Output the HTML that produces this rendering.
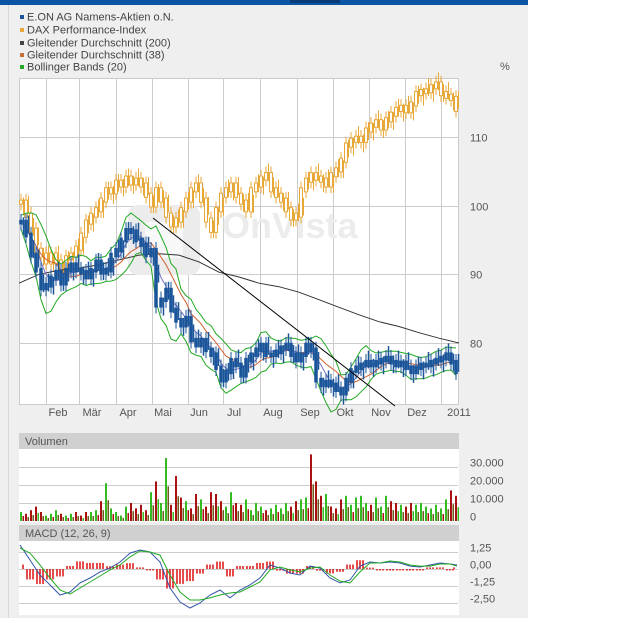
<!DOCTYPE html>
<html><head><meta charset="utf-8">
<style>
body{margin:0;width:640px;height:618px;background:#fff;font-family:"Liberation Sans",sans-serif;overflow:hidden}
svg text{font-family:"Liberation Sans",sans-serif}
</style></head>
<body>
<svg id="chart" width="640" height="618" xmlns="http://www.w3.org/2000/svg">
<rect x="0" y="0" width="528" height="618" fill="#efefef"/>
<line x1="8.5" y1="0" x2="8.5" y2="618" stroke="#d8d8d8"/>
<rect x="0" y="0" width="528" height="5" fill="#0b56a4"/>
<rect x="290" y="0" width="50" height="3" fill="#073c78"/>
<g font-size="11" fill="#444">
<rect x="20" y="15" width="4" height="4" fill="#1a5499"/><text x="27" y="20.5">E.ON AG Namens-Aktien o.N.</text>
<rect x="20" y="28" width="4" height="4" fill="#e8a838"/><text x="27" y="33.5">DAX Performance-Index</text>
<rect x="20" y="41" width="4" height="4" fill="#444"/><text x="27" y="46.5">Gleitender Durchschnitt (200)</text>
<rect x="20" y="53" width="4" height="4" fill="#c8703a"/><text x="27" y="58.5">Gleitender Durchschnitt (38)</text>
<rect x="20" y="65" width="4" height="4" fill="#22aa22"/><text x="27" y="70.5">Bollinger Bands (20)</text>
</g>
<text x="500" y="70" font-size="11" fill="#555">%</text>
<g id="main"></g>
<g id="vol"></g>
<g id="macd"></g>
</svg>
<script>
const eon=[97.6,95.7,92.8,90.6,88,88.4,89.5,90.3,88.7,90.6,91.4,90.6,90.3,89.6,90.6,91.8,90.3,90.6,92.8,93.5,95,96.4,96.2,95,94.3,92.8,93.5,85.5,86.3,87.7,84.8,83.3,82.6,83.6,80.4,79.7,80.4,79,78.3,76.4,74.6,75.8,77.5,76.8,75.3,77.5,78.3,79,79.7,78.3,78.3,78.7,79.3,79.7,78.3,77.5,78.3,79.7,79,74.6,73.9,74.3,73.9,73.2,72.7,74.6,76,76.4,76.8,77.2,76.8,77.2,77.5,77.8,77.2,76.8,77.1,76.4,75.8,76.4,76.8,76.8,77.2,77.5,77.8,78.3,77.2,75.8];
const dax=[100.5,98.6,96.4,93.5,92.8,91.8,92.8,91.8,90.6,92.4,92.8,93.8,95.7,97.6,98.6,99.4,100.8,102.3,102,103.4,103,104,103.3,103.7,103,101.5,100.1,102.3,100.8,98.6,97.2,97.9,99.4,100.8,102.3,103,100.8,97.9,96.4,99.4,101.5,102.3,103,101.5,100.5,99.4,102.3,103,104,104.5,102.3,101.5,100.8,99.4,98.2,98.6,102.3,103.7,104.5,104,103.7,103,104.5,105.2,106.6,108.8,109.5,109.8,109.5,111,111.7,112.2,111.3,112.5,113.3,114,114.3,113.8,114.8,116.3,116.6,116.7,117.3,117.7,116.3,115.9,115.6,114];
const ma200=[88.7,90,90.6,90.9,91.4,92.1,92.8,93,92.8,91.8,90.3,89.6,88.7,88.2,87.4,86.3,85.2,84.1,83.1,82.4,81.5,80.7,80];
const volume=[5,4,6,8,5,3,4,6,4,3,4,5,3,5,5,6,11,21,7,5,3,8,10,7,9,6,16,22,10,35,9,25,13,11,7,15,12,8,16,15,11,8,16,10,9,12,6,10,8,6,7,9,7,10,8,11,12,13,37,22,14,15,8,7,12,14,9,13,14,10,9,13,8,14,11,10,9,8,10,9,10,8,7,9,7,12,17,14];
const macdLine=[1.79,0.67,-0.45,-1.19,-1.94,-1.72,-1.04,-0.67,-0.22,0.07,0.52,1.19,1.42,1.27,0.52,-1.42,-2.46,-2.91,-2.54,-1.94,-1.57,-2.16,-1.57,-1.19,-0.67,0.30,0.07,-0.30,-0.45,0.22,0.07,-0.67,-1.04,-0.82,0.22,0.52,0.45,0.52,0.45,0.22,0.15,0.30,0.45,0.37,0.30];
const signalLine=[1.57,1.19,0.30,-0.67,-1.57,-1.87,-1.42,-0.97,-0.52,-0.07,0.30,0.90,1.34,1.27,1.04,-0.45,-1.72,-2.31,-2.31,-2.16,-1.94,-1.79,-1.72,-1.34,-0.97,-0.07,0.15,-0.07,-0.22,0.07,0.15,-0.45,-0.90,-1.04,-0.22,0.45,0.45,0.60,0.52,0.30,0.22,0.22,0.37,0.37,0.22];
const yTicks=[110,100,90,80];
const volTicks=[30,20,10,0];
const volTickLabels=["30.000","20.000","10.000","0"];
const macdTicks=[1.25,0,-1.25,-2.5];
const macdTickLabels=["1,25","0,00","-1,25","-2,50"];
const months=["Feb","Mär","Apr","Mai","Jun","Jul","Aug","Sep","Okt","Nov","Dez","2011"];
const monthLines=[46,79,116,152,188,223,260,297,333,369,405,441];
const monthLabelX=[58,92,128,163,199,234,273,310,345,381,417,459];

const NS="http://www.w3.org/2000/svg";
function mk(p,tag,a){const e=document.createElementNS(NS,tag);for(const k in a)e.setAttribute(k,a[k]);p.appendChild(e);return e;}
const L=19,R=458;
const yP=v=>343-(v-80)*6.87;
const xI=i=>21+i*5;
const main=document.getElementById('main');
const vol=document.getElementById('vol');
const mac=document.getElementById('macd');

let r=mk(main,'rect',{x:L+0.5,y:78.5,width:R-L,height:326,fill:'#fff',stroke:'#ccc'});

monthLines.forEach(x=>{const l=mk(main,'line',{x1:x+.5,x2:x+.5,y1:79,y2:404,stroke:'#ccc'});
});
yTicks.forEach(v=>{const y=Math.round(yP(v))+.5;const l=mk(main,'line',{x1:L,x2:R,y1:y,y2:y,stroke:'#ccc'});

const t=mk(main,'text',{x:470,y:y+4,'font-size':11,fill:'#555'});t.textContent=v;
});
months.forEach((m,i)=>{const t=mk(main,'text',{x:monthLabelX[i],y:416,'font-size':11,fill:'#555','text-anchor':'middle'});t.textContent=m;
});
let wm=mk(main,'g',{});

mk(wm,'rect',{x:128,y:205,width:72,height:70,rx:10,fill:'#ececec'});
mk(wm,'rect',{x:145,y:222,width:38,height:36,rx:4,fill:'#f8f8f8'});
let wt=mk(wm,'text',{x:222,y:238,'font-size':36,'font-weight':'bold',fill:'#ececec'});wt.textContent='OnVista';

function candles(arr,name,hollow,color){
  const g=mk(main,'g',{});
  arr.forEach((c,i)=>{const o=i?arr[i-1]:c;const hi=Math.max(o,c)+1.2,lo=Math.min(o,c)-1.2;const x=xI(i);
    const w=mk(g,'line',{x1:x,x2:x,y1:yP(hi),y2:yP(lo),stroke:color,'stroke-width':1});
    
    const top=yP(Math.max(o,c)+0.3),h=Math.max(4,yP(Math.min(o,c)-0.3)-top);
    const b=mk(g,'rect',{x:x-1.5,y:top,width:3,height:h,fill:hollow?'#fff':color,stroke:color,'stroke-width':hollow?1:0.5});
    
    const x2=x+2.5,mid=(o+c)/2+(i%2?0.6:-0.6);
    const w2=mk(g,'line',{x1:x2,x2:x2,y1:yP(mid+1.3),y2:yP(mid-1.3),stroke:color,'stroke-width':hollow?1:1.5});
    });
}
function poly(pts,name,color,w){const p=mk(main,'polyline',{points:pts.map(p=>p[0].toFixed(1)+','+p[1].toFixed(1)).join(' '),fill:'none',stroke:color,'stroke-width':w||1});
}
candles(dax,'dax-candles',true,'#e8a838');
const ma38=[],bbM=[],bbU=[],bbL=[];
eon.forEach((v,i)=>{const s=eon.slice(Math.max(0,i-7),i+1);ma38.push([xI(i),yP(s.reduce((a,b)=>a+b)/s.length)]);
 const s2=eon.slice(Math.max(0,i-3),i+1);const m=s2.reduce((a,b)=>a+b)/s2.length;
 const s3=eon.slice(Math.max(0,i-5),i+1);const m3=s3.reduce((a,b)=>a+b)/s3.length;
 const sd=Math.sqrt(s3.reduce((a,b)=>a+(b-m3)*(b-m3),0)/s3.length);
 const bw=1.3*sd+1.0;
 bbM.push([xI(i),yP(m)]);bbU.push([xI(i),yP(m+bw)]);bbL.push([xI(i),yP(m-bw)]);});
poly(ma200.map((v,i)=>[L+i*20,yP(v)]),'ma200-line','#333',1);
poly(ma38,'ma38-line','#d06030',1);
poly(bbM,'bollinger-middle','#7070c0',1);
poly(bbU,'bollinger-upper','#22aa22',1);
poly(bbL,'bollinger-lower','#22aa22',1);
candles(eon,'eon-candles',false,'#1a5499');
let tl=mk(main,'line',{x1:153,y1:218,x2:395,y2:406,stroke:'#000','stroke-width':1});


let vh=mk(vol,'rect',{x:L,y:433,width:R-L+1,height:16,fill:'#d0d0d0'});

let vht=mk(vol,'text',{x:25,y:445,'font-size':11,fill:'#555'});vht.textContent='Volumen';

let vp=mk(vol,'rect',{x:L,y:449,width:R-L+1,height:73,fill:'#fff'});

const vY=v=>521-v*1.8;
volTicks.forEach((v,i)=>{const y=Math.round(vY(v))+.5;if(v>0){const l=mk(vol,'line',{x1:L,x2:R,y1:y,y2:y,stroke:'#ccc'});
}
const t=mk(vol,'text',{x:470,y:y-1,'font-size':11,fill:'#555'});t.textContent=volTickLabels[i];
});
volume.forEach((v,i)=>{const up=i==0||eon[i]>=eon[i-1];const x=xI(i);
 const b=mk(vol,'rect',{x:x-1,y:vY(v),width:2,height:v*1.8,fill:up?'#33bb22':'#aa1111'});
 
 const b2=mk(vol,'rect',{x:x+1.5,y:vY(v*0.55),width:1.5,height:v*0.55*1.8,fill:i%3?'#6b5a1a':(up?'#aa1111':'#33bb22')});
 });

let mh=mk(mac,'rect',{x:L,y:525,width:R-L+1,height:16,fill:'#d0d0d0'});

let mht=mk(mac,'text',{x:25,y:537,'font-size':11,fill:'#555'});mht.textContent='MACD (12, 26, 9)';

let mp=mk(mac,'rect',{x:L,y:541,width:R-L+1,height:74,fill:'#fff'});

const mY=v=>569-v*13.4;
macdTicks.forEach((v,i)=>{const y=Math.round(mY(v))+.5;const l=mk(mac,'line',{x1:L,x2:R,y1:y,y2:y,stroke:'#ccc'});

const t=mk(mac,'text',{x:470,y:y-1,'font-size':11,fill:'#555'});t.textContent=macdTickLabels[i];
});
const mX=i=>Math.min(20+i*10,457);
macdLine.forEach((v,i)=>{const d=(v-signalLine[i])*1.5;const y0=mY(0),y1=mY(d);
 [-3,0,3].forEach(o=>{const bx=mX(i)+o-0.75;if(bx<L+1||bx>R-2)return;
 const b=mk(mac,'rect',{x:bx,y:Math.min(y0,y1),width:1.5,height:Math.max(1.5,Math.abs(y1-y0)),fill:'#dd1111'});
 });});
let ml=mk(mac,'polyline',{points:macdLine.map((v,i)=>mX(i)+','+mY(v).toFixed(1)).join(' '),fill:'none',stroke:'#3355aa','stroke-width':1});

let sl=mk(mac,'polyline',{points:signalLine.map((v,i)=>mX(i)+','+mY(v).toFixed(1)).join(' '),fill:'none',stroke:'#22aa22','stroke-width':1});

</script>
</body></html>
